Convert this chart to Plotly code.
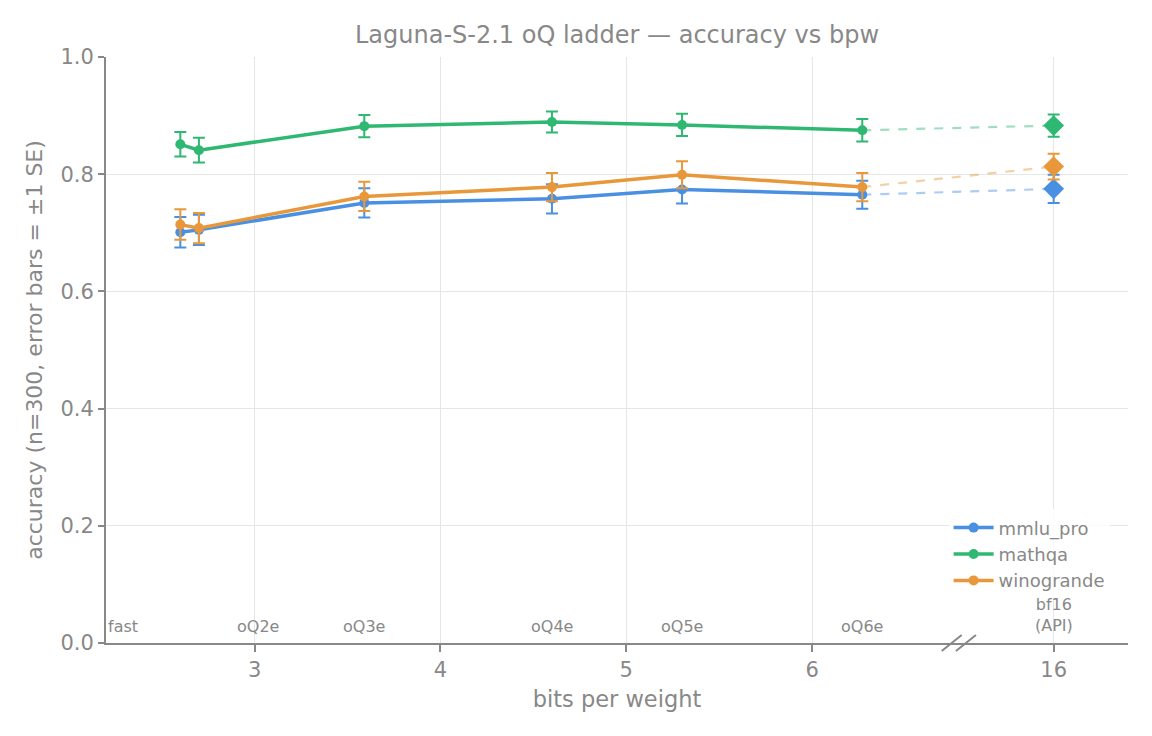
import plotly.graph_objects as go

# ---- data ----
quant_labels = ["fast", "oQ2e", "oQ3e", "oQ4e", "oQ5e", "oQ6e"]
bpw = [2.60, 2.70, 3.59, 4.60, 5.30, 6.27]
bf16_bpw = 16
bf16_pos = 7.30          # where "16" sits on the broken axis

mmlu_pro = [0.701, 0.705, 0.751, 0.758, 0.774, 0.765]
mmlu_pro_se = [0.026, 0.026, 0.025, 0.025, 0.024, 0.024]
mmlu_pro_bf16 = 0.775
mmlu_pro_bf16_se = 0.024

mathqa = [0.851, 0.841, 0.882, 0.889, 0.884, 0.875]
mathqa_se = [0.021, 0.021, 0.019, 0.018, 0.019, 0.019]
mathqa_bf16 = 0.883
mathqa_bf16_se = 0.019

winogrande = [0.714, 0.708, 0.762, 0.778, 0.799, 0.778]
winogrande_se = [0.026, 0.026, 0.025, 0.024, 0.023, 0.024]
winogrande_bf16 = 0.813
winogrande_bf16_se = 0.022

x_tick_vals = [3, 4, 5, 6, bf16_pos]
x_tick_text = ["3", "4", "5", "6", str(bf16_bpw)]
y_tick_vals = [0.0, 0.2, 0.4, 0.6, 0.8, 1.0]

label_x = [None, 3.02, 3.59, 4.60, 5.30, 6.27]

series = [
    ("mmlu_pro", mmlu_pro, mmlu_pro_se, mmlu_pro_bf16, mmlu_pro_bf16_se, "#4a90e2"),
    ("mathqa", mathqa, mathqa_se, mathqa_bf16, mathqa_bf16_se, "#2eb872"),
    ("winogrande", winogrande, winogrande_se, winogrande_bf16, winogrande_bf16_se, "#e8983a"),
]

FONT = "DejaVu Sans"
GRAY = "#888888"

fig = go.Figure()
for name, vals, se, bv, bse, col in series:
    # dashed connector to bf16
    fig.add_trace(go.Scatter(
        x=[bpw[-1], bf16_pos], y=[vals[-1], bv], mode="lines",
        line=dict(color=col, width=2.2, dash="dash"), opacity=0.45,
        showlegend=False, hoverinfo="skip"))
    fig.add_trace(go.Scatter(
        x=bpw, y=vals, mode="lines+markers", name=name,
        line=dict(color=col, width=3.5),
        marker=dict(color=col, size=10, symbol="circle"),
        error_y=dict(type="data", array=se, visible=True, color=col,
                     thickness=2, width=6)))
    fig.add_trace(go.Scatter(
        x=[bf16_pos], y=[bv], mode="markers", showlegend=False,
        marker=dict(color=col, size=16, symbol="diamond"),
        error_y=dict(type="data", array=[bse], visible=True, color=col,
                     thickness=2, width=6)))

ANN_SIZE = 16
annotations = []
for lab, lx in zip(quant_labels, label_x):
    if lx is None:
        annotations.append(dict(x=0.0, xref="paper", y=0.029, yref="y", text=lab,
                                showarrow=False, xanchor="left", yanchor="middle",
                                font=dict(family=FONT, size=ANN_SIZE, color=GRAY)))
    else:
        annotations.append(dict(x=lx, xref="x", y=0.029, yref="y", text=lab,
                                showarrow=False, xanchor="center", yanchor="middle",
                                font=dict(family=FONT, size=ANN_SIZE, color=GRAY)))
annotations.append(dict(x=bf16_pos, xref="x", y=0.047, yref="y", text="bf16<br>(API)",
                        showarrow=False, xanchor="center", yanchor="middle",
                        font=dict(family=FONT, size=ANN_SIZE, color=GRAY)))

shapes = []
for off in (-7.3, 7.0):
    shapes.append(dict(type="line", xref="paper", yref="paper", xsizemode="pixel", ysizemode="pixel",
                       xanchor=0.8346, yanchor=0, x0=off - 10, x1=off + 10, y0=-8, y1=8,
                       line=dict(color=GRAY, width=2)))

fig.update_layout(
    width=1152, height=736,
    margin=dict(l=106, r=24, t=57, b=93),
    plot_bgcolor="white", paper_bgcolor="white",
    font=dict(family=FONT, color=GRAY, size=16),
    title=dict(text="Laguna-S-2.1 oQ ladder — accuracy vs bpw", x=0.5, xref="paper",
               xanchor="center", y=0.953, yanchor="middle",
               font=dict(family=FONT, size=24, color=GRAY)),
    xaxis=dict(range=[2.2, 7.7], tickvals=x_tick_vals, ticktext=x_tick_text,
               showgrid=True, gridcolor="#e6e6e6", gridwidth=1,
               showline=True, linecolor=GRAY, linewidth=2,
               ticks="outside", ticklen=7, tickwidth=2, tickcolor=GRAY,
               tickfont=dict(family=FONT, size=21, color=GRAY),
               title=dict(text="bits per weight", font=dict(family=FONT, size=22.5, color=GRAY),
                          standoff=10),
               zeroline=False),
    yaxis=dict(range=[0, 1.0], tickvals=y_tick_vals, tickformat=".1f",
               showgrid=True, gridcolor="#e6e6e6", gridwidth=1,
               showline=True, linecolor=GRAY, linewidth=2,
               ticks="outside", ticklen=6, tickwidth=2, tickcolor=GRAY,
               tickfont=dict(family=FONT, size=21, color=GRAY),
               title=dict(text="accuracy (n=300, error bars = ±1 SE)",
                          font=dict(family=FONT, size=22, color=GRAY), standoff=12),
               zeroline=False),
    legend=dict(x=0.982, xanchor="right", y=0.228, yanchor="top",
                bgcolor="rgba(255,255,255,0.8)", font=dict(family=FONT, size=18, color=GRAY),
                tracegroupgap=0, itemwidth=40),
    annotations=annotations, shapes=shapes,
    showlegend=True,
)

fig.write_html("out.html")
